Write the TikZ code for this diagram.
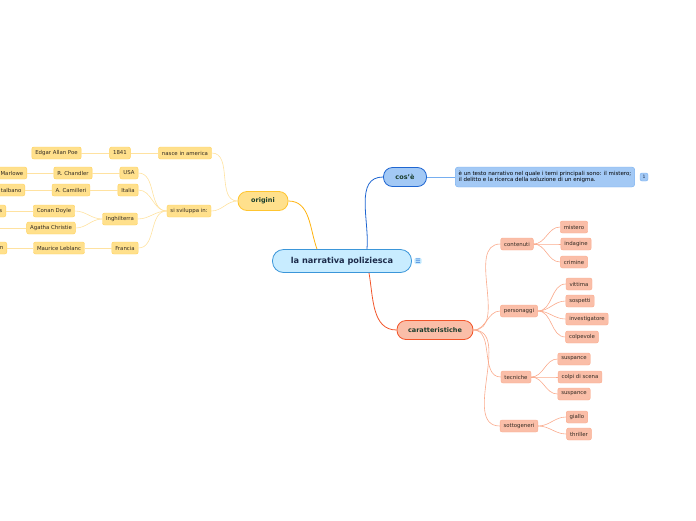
\documentclass[tikz,border=0pt]{standalone}
\usepackage{fontspec}
\setmainfont{DejaVu Sans}
\usetikzlibrary{positioning}
\definecolor{rootfill}{RGB}{200,236,255}
\definecolor{rootline}{RGB}{59,150,217}
\definecolor{bluefill}{RGB}{163,201,245}
\definecolor{blueline}{RGB}{31,102,209}
\definecolor{descline}{RGB}{118,174,240}
\definecolor{yelfill}{RGB}{255,224,140}
\definecolor{yelline}{RGB}{255,197,48}
\definecolor{yellink}{RGB}{255,179,15}
\definecolor{yelsub}{RGB}{255,226,160}
\definecolor{orafill}{RGB}{250,190,168}
\definecolor{oraline}{RGB}{242,85,42}
\definecolor{orasub}{RGB}{250,170,140}
\definecolor{txtgreen}{RGB}{24,60,44}
\definecolor{txtnavy}{RGB}{28,43,74}
\definecolor{txtdark}{RGB}{50,42,34}

\begin{document}
\begin{tikzpicture}[
    x=1pt, y=1pt,
    rootbox/.style={draw=rootline, thick, fill=rootfill, rounded corners=11pt, minimum width=139pt, minimum height=23pt, font=\fontsize{8.2}{9}\selectfont\bfseries, text=txtnavy},
    mainbox/.style={thick, rounded corners=9pt, minimum height=19pt, inner xsep=9pt, font=\fontsize{6.5}{8}\selectfont\bfseries, text=txtgreen},
    leaf/.style={rounded corners=2pt, minimum height=12pt, inner xsep=3.5pt, inner ysep=1pt, font=\fontsize{5.4}{6}\selectfont, text=txtdark},
    yleaf/.style={leaf, draw=yelline!80, fill=yelfill},
    oleaf/.style={leaf, draw=orasub, fill=orafill},
    ylink/.style={yelsub, semithick},
    olink/.style={orasub, semithick},
    curve/.style={out=0, in=180}
]
\clip (0,0) rectangle (696,-520);

% centre
\node[rootbox] (root) at (342,-261) {la narrativa poliziesca};
\node[fill=rootfill, rounded corners=1.5pt, inner sep=1pt, text=blueline, font=\fontsize{6}{6}\selectfont] (note) at (418,-261) {☰};

% cos'e
\node[mainbox, draw=blueline, fill=bluefill, minimum width=43pt, inner xsep=2pt] (cos) at (405,-177) {cos'è};
\node[leaf, draw=descline, fill=bluefill, align=left, rounded corners=3pt, minimum height=20pt, font=\fontsize{5.5}{6.5}\selectfont, text=black] (desc) at (545,-177)
    {è un testo narrativo nel quale i temi principali sono: il mistero;\\il delitto e la ricerca della soluzione di un enigma.};
\node[draw=descline, fill=bluefill, rounded corners=2pt, inner sep=1pt, minimum width=8pt, minimum height=8pt, font=\fontsize{4.5}{5}\selectfont, text=txtnavy] (badge) at (644,-177) {1};
\draw[blueline, thick] ([xshift=25pt]root.north) to[out=85, in=180] (cos.west);
\draw[descline, semithick] (cos.east) -- (desc.west);

% origini
\node[mainbox, draw=yelline, fill=yelfill, minimum width=50pt] (orig) at (263,-201) {origini};
\draw[yellink, thick] (orig.east) to[out=0, in=110] ([xshift=-25pt]root.north);

\node[yleaf] (nasce) at (185,-153) {nasce in america};
\node[yleaf] (anno) at (120,-153) {1841};
\node[yleaf] (poe) at (56.5,-153) {Edgar Allan Poe};
\node[yleaf] (svil) at (189,-211) {si sviluppa in:};

\node[yleaf] (usa) at (129,-173) {USA};
\node[yleaf] (chandler) at (73,-173) {R. Chandler};
\node[yleaf, anchor=east] (marlowe) at (27,-173) {Marlowe};
\node[yleaf] (italia) at (128,-190) {Italia};
\node[yleaf] (camilleri) at (71,-190) {A. Camilleri};
\node[yleaf, anchor=east] (talbano) at (25,-190) {talbano};
\node[yleaf] (ingh) at (120,-219) {Inghilterra};
\node[yleaf] (doyle) at (54,-211) {Conan Doyle};
\node[yleaf, anchor=east] (holmes) at (6,-211) {s};
\node[yleaf] (christie) at (51,-228) {Agatha Christie};
\coordinate (marple) at (-10,-228);
\node[yleaf] (francia) at (125,-248) {Francia};
\node[yleaf] (leblanc) at (59,-248) {Maurice Leblanc};
\node[yleaf, anchor=east] (lupin) at (7,-248) {n};

\draw[ylink] (nasce.east) to[curve] (orig.west);
\draw[ylink] (svil.east) to[curve] (orig.west);
\draw[ylink] (poe) -- (anno);
\draw[ylink] (anno) -- (nasce);
\foreach \c in {usa, italia, ingh, francia}
    \draw[ylink] (\c.east) to[curve] (svil.west);
\draw[ylink] (marlowe) -- (chandler);
\draw[ylink] (chandler) -- (usa);
\draw[ylink] (talbano) -- (camilleri);
\draw[ylink] (camilleri) -- (italia);
\draw[ylink] (doyle.east) to[curve] (ingh.west);
\draw[ylink] (christie.east) to[curve] (ingh.west);
\draw[ylink] (holmes) -- (doyle);
\draw[ylink] (marple) -- (christie.west);
\draw[ylink] (lupin) -- (leblanc);
\draw[ylink] (leblanc) -- (francia);

% caratteristiche
\node[mainbox, draw=oraline, fill=orafill, minimum width=76pt] (car) at (435,-330) {caratteristiche};
\draw[oraline, thick] ([xshift=27pt]root.south) to[out=-80, in=180] (car.west);

\node[oleaf] (cont) at (517,-244) {contenuti};
\node[oleaf] (pers) at (519,-311) {personaggi};
\node[oleaf] (tecn) at (516,-377) {tecniche};
\node[oleaf] (sotto) at (519,-426) {sottogeneri};
\foreach \c in {cont, pers, tecn, sotto}
    \draw[olink] (car.east) to[curve] (\c.west);

\node[oleaf] (mist) at (574,-227) {mistero};
\node[oleaf] (inda) at (576,-244) {indagine};
\node[oleaf] (crim) at (574,-262) {crimine};
\foreach \c in {mist, inda, crim}
    \draw[olink] (cont.east) to[curve] (\c.west);

\node[oleaf] (vitt) at (579,-284) {vittima};
\node[oleaf] (sosp) at (580,-301) {sospetti};
\node[oleaf] (inve) at (587,-319) {investigatore};
\node[oleaf] (colp) at (582,-337) {colpevole};
\foreach \c in {vitt, sosp, inve, colp}
    \draw[olink] (pers.east) to[curve] (\c.west);

\node[oleaf] (susp) at (574,-359) {suspance};
\node[oleaf] (scena) at (580,-377) {colpi di scena};
\node[oleaf] (susp2) at (574,-394) {suspance};
\foreach \c in {susp, scena, susp2}
    \draw[olink] (tecn.east) to[curve] (\c.west);

\node[oleaf] (giallo) at (577,-417) {giallo};
\node[oleaf] (thril) at (579,-434) {thriller};
\foreach \c in {giallo, thril}
    \draw[olink] (sotto.east) to[curve] (\c.west);
\end{tikzpicture}
\end{document}
